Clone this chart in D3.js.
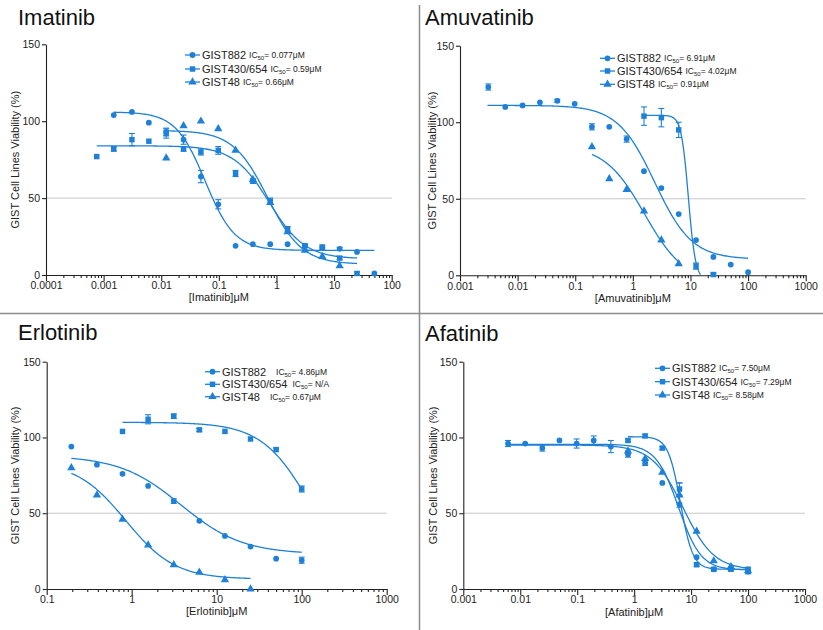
<!DOCTYPE html>
<html><head><meta charset="utf-8">
<script src="https://cdn.jsdelivr.net/npm/d3@7"></script>
<style>body{margin:0;background:#fff}svg{display:block;font-family:"Liberation Sans",Arial,sans-serif}</style>
</head><body><svg id="c" width="823" height="630"></svg>
<script>
const _ = null;
// two-fold dilution concentrations (µM)
const conc = [0.00076,0.0015,0.0031,0.0061,0.0122,0.0244,0.0488,0.0977,0.195,0.39,0.78,1.56,3.125,6.25,12.5,25,50,100];
const seriesNames = ["GIST882","GIST430/654","GIST48"];
const drugs = ["Imatinib","Amuvatinib","Erlotinib","Afatinib"];
const ic50Labels = [["0.077μM","0.59μM","0.66μM"],["6.91μM","4.02μM","0.91μM"],["4.86μM","N/A","0.67μM"],["7.50μM","7.29μM","8.58μM"]];
const yTicks = [0,50,100,150];
const xTicksImatinib = ["0.0001","0.001","0.01","0.1","1","10","100"];
const xTicksAmuvatinib = ["0.001","0.01","0.1","1","10","100","1000"];
const xTicksErlotinib = ["0.1","1","10","100","1000"];
const xTicksAfatinib = ["0.001","0.01","0.1","1","10","100","1000"];

// Imatinib
const ima882 = [_,104,106,99,93,88,64,46,19,20,20,20,19,18,17,15,1,_];
const ima882Err = [0,0,0,0,2.5,3,4,3,0,0,0,0,0,0,1,0,0,0];
const ima430 = [77,82,88,87,92,82,80,81,66,61,48,30,19,18,11,1,_,_];
const ima430Err = [0,1.5,4,0,3,1.5,2,2.5,2,1.5,2,1.5,1,1.5,1,1,0,0];
const ima48 = [_,_,_,_,76,97,100,95,81,62,47,28,16,12,6,_,_,_];
const ima48Err = [0,0,0,0,0,0,0,0,0,0,0,0,0,0,0,0,0,0];
const imaFit = [[106,16,0.058,1.7,0.0015,50],[84,10.5,0.75,1.4,0.00076,25],[94,7,0.7,1.45,0.0122,25]];

// Amuvatinib
const amu882 = [_,_,123,110,111,113,114,112,97,97,89,68,57,40,23,12,7,2];
const amu882Err = [0,0,2,0,0,0,1,0,2,0,2,0,0,0,0,0,0,0];
const amu430 = [_,_,_,_,_,_,_,_,_,_,_,104,103,95,6,0.5,_,_];
const amu430Err = [0,0,0,0,0,0,0,0,0,0,0,6,6,5,2,1,0,0];
const amu48 = [_,_,_,_,_,_,_,_,84,63,56,42,23,7.5,_,_,_,_];
const amu48Err = [0,0,0,0,0,0,0,0,0,0,0,0,0,0,0,0,0,0];
const amuFit = [[111,10.5,2.4,1.35,0.003,100],[104.5,-3,9.2,7,1.56,15],[85,-5,1.6,1.25,0.195,6.25]];

// Erlotinib
const erl882 = [_,_,_,_,_,_,_,_,94,82,76,68,58,45,35,28,20,19];
const erl882Err = [0,0,0,0,0,0,0,0,0,0,0,0,1.5,0,0,0,0,2];
const erl430 = [_,_,_,_,_,_,_,_,_,_,104,112,114,105,104,99,92,66];
const erl430Err = [0,0,0,0,0,0,0,0,0,0,0,3,1.5,1,0,0,1,2];
const erl48 = [_,_,_,_,_,_,_,_,80,62,46,29,16,11,6,0,_,_];
const erl48Err = [0,0,0,0,0,0,0,0,0,0,0,0,0,0,0,0,0,0];
const erlFit = [[88,23,3.8,1.2,0.195,100],[110,0,130,1.5,0.78,100],[84,6.5,0.85,1.5,0.195,25]];

// Afatinib
const afa882 = [_,_,_,96,96,93,98,96,98,94,89,83,70,56,21,13,14,11.5];
const afa882Err = [0,0,0,2,0,2,0,3,3,4,2,1.5,0,0,0,0,0,1.5];
const afa430 = [_,_,_,_,_,_,_,_,_,_,98,101,93,66,16,13,13,13];
const afa430Err = [0,0,0,0,0,0,0,0,0,0,1,1,1,4,1,1,1,1];
const afa48 = [_,_,_,_,_,_,_,_,_,_,91,86,77,62,38,18.5,14.7,12];
const afa48Err = [0,0,0,0,0,0,0,0,0,0,0,0,0,8,0,0,0,0];
const afaFit = [[95.5,12.5,6.0,2.2,0.0061,100],[100.5,13,6.5,4,0.78,100],[95,12.5,7.2,1.6,0.0061,100]];

const blue = "#1f80d8";
const ink = "#222";
const svg = d3.select("#c");

// separators
svg.append("line").attr("x1",0).attr("x2",823).attr("y1",313.5).attr("y2",313.5).attr("stroke","#8c8c8c").attr("stroke-width",1.5);
svg.append("line").attr("x1",419.5).attr("x2",419.5).attr("y1",5).attr("y2",630).attr("stroke","#8c8c8c").attr("stroke-width",1.5);

const panels = [
  {i:0, dom:[1e-4,100], ticks:xTicksImatinib, x0:46, x1:391.7, yTop:44.3, yBot:275, tx:18, ty:25, ylx:15, xlOff:26,
   lx:185, rows:[55,69,82], gaps:[3,3,3], vals:[ima882,ima430,ima48], errs:[ima882Err,ima430Err,ima48Err], fit:imaFit},
  {i:1, dom:[1e-3,1000], ticks:xTicksAmuvatinib, x0:460, x1:805.7, yTop:45.7, yBot:275.3, tx:425, ty:25, ylx:431.7, xlOff:27,
   lx:600, rows:[58.3,71,84.3], gaps:[3,3,3], vals:[amu882,amu430,amu48], errs:[amu882Err,amu430Err,amu48Err], fit:amuFit},
  {i:2, dom:[0.1,1000], ticks:xTicksErlotinib, x0:46.7, x1:386.7, yTop:361.7, yBot:589, tx:18, ty:340, ylx:15, xlOff:25.5,
   lx:205, rows:[371.7,384.3,396.7], gaps:[10,5,10], vals:[erl882,erl430,erl48], errs:[erl882Err,erl430Err,erl48Err], fit:erlFit},
  {i:3, dom:[1e-3,1000], ticks:xTicksAfatinib, x0:463.3, x1:805, yTop:361.7, yBot:589, tx:425, ty:341, ylx:433.3, xlOff:27,
   lx:655, rows:[368.3,381.7,395], gaps:[3,3,3], vals:[afa882,afa430,afa48], errs:[afa882Err,afa430Err,afa48Err], fit:afaFit}
];

const symbolTypes = [d3.symbolCircle, d3.symbolSquare, d3.symbolTriangle];
const symbolSizes = [26, 30, 30];

function fourPL(p, xv){ const [top,bot,ec,h]=p; return bot + (top-bot)/(1+Math.pow(xv/ec,h)); }

panels.forEach(p => {
  const g = svg.append("g");
  const x = d3.scaleLog().domain(p.dom).range([p.x0,p.x1]);
  const y = d3.scaleLinear().domain([0,150]).range([p.yBot,p.yTop]);
  const clipId = "clip"+p.i;
  svg.append("clipPath").attr("id",clipId).append("rect")
    .attr("x",p.x0).attr("y",p.yTop-10).attr("width",p.x1-p.x0+10).attr("height",p.yBot-p.yTop+10);

  // title
  g.append("text").attr("x",p.tx).attr("y",p.ty).attr("font-size",22).attr("fill","#111").text(drugs[p.i]);

  // 50% line
  g.append("line").attr("x1",p.x0).attr("x2",p.x1).attr("y1",y(50)).attr("y2",y(50)).attr("stroke","#c8c8c8").attr("stroke-width",1);

  // axes
  const all = x.ticks();
  const majors = all.filter(d => Math.abs(Math.log10(d)-Math.round(Math.log10(d)))<1e-9);
  const minors = all.filter(d => majors.indexOf(d)<0);
  g.append("g").attr("class","xax").attr("transform",`translate(0,${p.yBot})`)
    .call(d3.axisBottom(x).tickValues(majors).tickFormat((d,i)=>p.ticks[i]).tickSize(6).tickSizeOuter(0).tickPadding(1));
  g.append("g").attr("transform",`translate(0,${p.yBot})`)
    .call(d3.axisBottom(x).tickValues(minors).tickFormat("").tickSize(3).tickSizeOuter(0))
    .call(a=>a.select(".domain").remove());
  g.append("g").attr("transform",`translate(${p.x0},0)`)
    .call(d3.axisLeft(y).tickValues(yTicks).tickSize(4).tickSizeOuter(0).tickPadding(2));
  g.selectAll(".tick text").attr("font-size",10.5).attr("fill",ink).attr("font-family",null);
  g.selectAll(".domain, .tick line").attr("stroke",ink).attr("stroke-width",1.1);

  // axis labels
  g.append("text").attr("transform",`translate(${p.ylx},${(p.yTop+p.yBot)/2}) rotate(-90)`)
    .attr("text-anchor","middle").attr("dominant-baseline","central").attr("font-size",11).attr("fill",ink)
    .text("GIST Cell Lines Viability (%)");
  g.append("text").attr("x",(p.x0+p.x1)/2).attr("y",p.yBot+p.xlOff).attr("text-anchor","middle")
    .attr("font-size",11).attr("fill",ink).text(`[${drugs[p.i]}]μM`);

  // curves
  const plot = g.append("g").attr("clip-path",`url(#${clipId})`);
  p.fit.forEach(f => {
    const lo = Math.log10(f[4]), hi = Math.log10(f[5]);
    const pts = d3.range(0,201).map(k => { const xv = Math.pow(10, lo + (hi-lo)*k/200); return [xv, fourPL(f,xv)]; });
    plot.append("path").datum(pts).attr("fill","none").attr("stroke",blue).attr("stroke-width",1.3)
      .attr("d", d3.line().x(d=>x(d[0])).y(d=>y(d[1])));
  });

  // points + error bars
  p.vals.forEach((vals, s) => {
    const errs = p.errs[s];
    const sym = d3.symbol().type(symbolTypes[s]).size(symbolSizes[s]);
    vals.forEach((v, k) => {
      if (v === null) return;
      const cx = x(conc[k]), cy = y(v);
      const e = errs[k];
      if (e > 0) {
        const y1 = y(v+e), y2 = y(Math.max(0,v-e));
        g.append("line").attr("x1",cx).attr("x2",cx).attr("y1",y1).attr("y2",y2).attr("stroke",blue).attr("stroke-width",1.1);
        [y1,y2].forEach(yy => g.append("line").attr("x1",cx-3).attr("x2",cx+3).attr("y1",yy).attr("y2",yy).attr("stroke",blue).attr("stroke-width",1.1));
      }
      g.append("path").attr("d",sym).attr("transform",`translate(${cx},${cy})`).attr("fill",blue);
    });
  });

  // legend
  seriesNames.forEach((name, s) => {
    const ry = p.rows[s];
    g.append("line").attr("x1",p.lx).attr("x2",p.lx+15).attr("y1",ry).attr("y2",ry).attr("stroke",blue).attr("stroke-width",1.3);
    g.append("path").attr("d",d3.symbol().type(symbolTypes[s]).size(symbolSizes[s])).attr("transform",`translate(${p.lx+7.5},${ry})`).attr("fill",blue);
    const nt = g.append("text").attr("x",p.lx+17).attr("y",ry+4).attr("font-size",11).attr("fill",ink).text(name);
    const end = p.lx + 17 + nt.node().getComputedTextLength();
    const t = g.append("text").attr("x",end + p.gaps[s]).attr("y",ry+3).attr("font-size",8.5).attr("fill",ink);
    t.append("tspan").text("IC");
    t.append("tspan").attr("font-size",6).attr("dy",2).text("50");
    t.append("tspan").attr("dy",-2).text("= "+ic50Labels[p.i][s]);
  });
});
</script></body></html>
